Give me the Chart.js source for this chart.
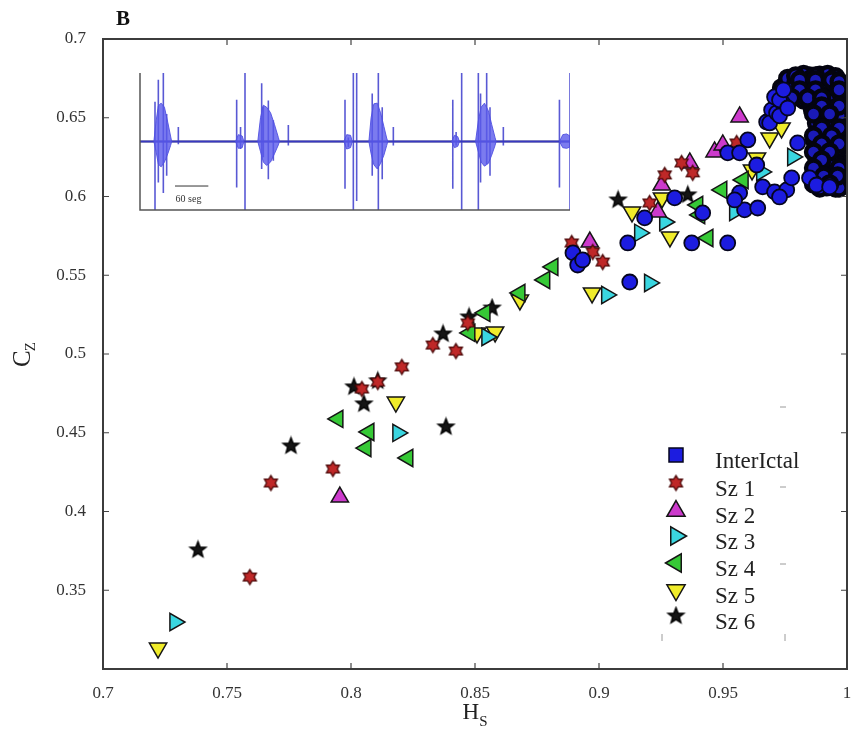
<!DOCTYPE html>
<html>
<head>
<meta charset="utf-8">
<script src="https://cdn.jsdelivr.net/npm/chart.js@4.4.0/dist/chart.umd.min.js"></script>
<style>
  body { margin: 0; background: #fff; }
  #wrap { position: relative; width: 864px; height: 729px; }
  #main { position: absolute; left: 0; top: 0; }
  #inset { position: absolute; left: 130px; top: 60px; }
</style>
</head>
<body>
<div id="wrap">
  <canvas id="main" width="864" height="729"></canvas>
  <canvas id="inset" width="450" height="160"></canvas>
</div>
<script>
'use strict';

// axis ticks
let xTicks = [0.7, 0.75, 0.8, 0.85, 0.9, 0.95, 1];
let yTicks = [0.3, 0.35, 0.4, 0.45, 0.5, 0.55, 0.6, 0.65, 0.7];

// [Hs, Cz]
let interIctal = [
  [0.8895, 0.5642], [0.8914, 0.5565], [0.8934, 0.5597], [0.9116, 0.5705], [0.9124, 0.5457],
  [0.9184, 0.5864], [0.9305, 0.5991], [0.9374, 0.5705], [0.9418, 0.5896], [0.9519, 0.5705],
  [0.9519, 0.6277], [0.9567, 0.6277], [0.9600, 0.6359], [0.9636, 0.6200], [0.9660, 0.6061],
  [0.9567, 0.6023], [0.9587, 0.5915], [0.9640, 0.5927], [0.9547, 0.5978], [0.9676, 0.6473],
  [0.9696, 0.6550], [0.9708, 0.6632], [0.9708, 0.6029], [0.9757, 0.6042], [0.9777, 0.6118],
  [0.9728, 0.5997], [0.9801, 0.6340], [0.9849, 0.6118], [0.9877, 0.6073], [0.9930, 0.6061],
  [0.9688, 0.6467], [0.9716, 0.6531], [0.9740, 0.6594], [0.9728, 0.6613], [0.9728, 0.6512],
  [0.9761, 0.6562], [0.9744, 0.6677]
];
// the dense, dark arc of overlapping InterIctal points (upper right)
let interIctalArc = [
  [0.9761, 0.6632], [0.9736, 0.6689], [0.9821, 0.6658],
  [0.9769, 0.6730], [0.9789, 0.6689], [0.9809, 0.6760], [0.9829, 0.6708], [0.9849, 0.6765],
  [0.9882, 0.6613], [0.9890, 0.6770], [0.9910, 0.6645], [0.9922, 0.6770], [0.9942, 0.6721],
  [0.9950, 0.6632], [0.9861, 0.6550], [0.9942, 0.6550], [0.9877, 0.6467], [0.9938, 0.6467],
  [0.9962, 0.6486], [0.9869, 0.6359], [0.9910, 0.6359], [0.9942, 0.6378], [0.9950, 0.6296],
  [0.9877, 0.6251], [0.9942, 0.6213], [0.9962, 0.6232], [0.9890, 0.6169], [0.9938, 0.6124],
  [0.9965, 0.6105], [0.9918, 0.6061],
  [0.9761, 0.6750], [0.9825, 0.6775], [0.9857, 0.6750], [0.9922, 0.6775], [0.9793, 0.6715],
  [0.9857, 0.6664], [0.9890, 0.6715], [0.9954, 0.6715], [0.9968, 0.6613], [0.9922, 0.6613],
  [0.9825, 0.6613], [0.9890, 0.6512], [0.9922, 0.6461], [0.9968, 0.6410], [0.9890, 0.6410],
  [0.9968, 0.6308], [0.9922, 0.6258], [0.9890, 0.6308], [0.9968, 0.6156], [0.9922, 0.6156],
  [0.9954, 0.6054], [0.9890, 0.6054], [0.9954, 0.6562], [0.9968, 0.6512], [0.9954, 0.6207],
  [0.9968, 0.6054],
  [0.9793, 0.6766], [0.9873, 0.6766], [0.9954, 0.6760], [0.9809, 0.6740], [0.9873, 0.6740],
  [0.9938, 0.6740], [0.9968, 0.6730], [0.9809, 0.6677], [0.9873, 0.6677], [0.9968, 0.6677],
  [0.9777, 0.6626], [0.9841, 0.6626], [0.9898, 0.6626], [0.9898, 0.6575], [0.9968, 0.6575],
  [0.9865, 0.6524], [0.9930, 0.6524], [0.9898, 0.6435], [0.9968, 0.6435], [0.9865, 0.6385],
  [0.9938, 0.6385], [0.9898, 0.6334], [0.9968, 0.6334], [0.9865, 0.6283], [0.9930, 0.6283],
  [0.9898, 0.6232], [0.9865, 0.6181], [0.9968, 0.6181], [0.9906, 0.6130], [0.9962, 0.6130],
  [0.9865, 0.6080], [0.9930, 0.6080]
];
let sz1 = [
  [0.7592, 0.3584], [0.7677, 0.4181], [0.7927, 0.4270], [0.8044, 0.4778], [0.8108, 0.4822],
  [0.8205, 0.4918], [0.8330, 0.5057], [0.8423, 0.5019], [0.8471, 0.5197], [0.8890, 0.5705],
  [0.8975, 0.5648], [0.9015, 0.5584], [0.9204, 0.5959], [0.9265, 0.6137], [0.9333, 0.6213],
  [0.9378, 0.6150], [0.9555, 0.6340]
];
let sz2 = [
  [0.7955, 0.4092], [0.8963, 0.5711], [0.9253, 0.6073], [0.9237, 0.5902], [0.9366, 0.6213],
  [0.9466, 0.6283], [0.9499, 0.6327], [0.9567, 0.6505]
];
let sz3 = [
  [0.7290, 0.3298], [0.8189, 0.4499], [0.8548, 0.5108], [0.9031, 0.5375], [0.9204, 0.5451],
  [0.9164, 0.5769], [0.9265, 0.5838], [0.9547, 0.5902], [0.9656, 0.6156], [0.9781, 0.6251]
];
let sz4 = [
  [0.7947, 0.4588], [0.8072, 0.4505], [0.8060, 0.4403], [0.8229, 0.4340], [0.8479, 0.5134],
  [0.8540, 0.5261], [0.8681, 0.5388], [0.8781, 0.5470], [0.8814, 0.5553], [0.9398, 0.5946],
  [0.9406, 0.5883], [0.9439, 0.5737], [0.9495, 0.6042], [0.9581, 0.6105]
];
let sz5 = [
  [0.7222, 0.3133], [0.8181, 0.4695], [0.8508, 0.5134], [0.8581, 0.5140], [0.8681, 0.5343],
  [0.8972, 0.5388], [0.9254, 0.5991], [0.9133, 0.5902], [0.9286, 0.5743], [0.9617, 0.6169],
  [0.9637, 0.6245], [0.9688, 0.6372], [0.9736, 0.6435]
];
let sz6 = [
  [0.7383, 0.3756], [0.7758, 0.4416], [0.8012, 0.4791], [0.8052, 0.4683], [0.8108, 0.4829],
  [0.8371, 0.5127], [0.8383, 0.4537], [0.8476, 0.5235], [0.8569, 0.5292], [0.9077, 0.5978],
  [0.9358, 0.6010]
];

// inset EEG trace (seconds, relative amplitude)
let spikeT = [27, 33, 42, 48, 69, 174, 181, 189, 219, 222, 231, 240, 267, 369, 375, 384, 390, 418, 429, 436, 456, 563, 569, 579, 609, 613, 624, 630, 654, 755, 774];
let spikeUp = [0.58, 0.9, 1, 0.4, 0.21, 0.61, 0.21, 1, 0.85, 0.51, 0.6, 0.31, 0.24, 0.61, 0.06, 1, 1, 0.7, 1, 0.5, 0.21, 0.61, 0.14, 1, 1, 0.7, 1, 0.5, 0.21, 0.61, 1];
let spikeDown = [-1, -0.6, -0.75, -0.5, -0.04, -0.67, -0.11, -1, -0.4, -0.23, -0.55, -0.28, -0.06, -0.69, -0.08, -1, -0.87, -0.5, -1, -0.55, -0.06, -0.69, -0.06, -1, -1, -0.6, -0.33, -0.5, -0.06, -0.67, -1];
let bursts = [
  [[25, 0], [29, 0.3], [33, 0.52], [38, 0.56], [44, 0.5], [50, 0.28], [55, 0.08], [57, 0], [55, -0.06], [50, -0.18], [44, -0.3], [38, -0.37], [33, -0.33], [29, -0.15], [25, 0]],
  [[212, 0], [217, 0.35], [222, 0.53], [228, 0.5], [235, 0.42], [242, 0.25], [249, 0.06], [251, 0], [249, -0.05], [242, -0.18], [235, -0.3], [228, -0.35], [222, -0.3], [217, -0.15], [212, 0]],
  [[412, 0], [416, 0.35], [421, 0.55], [427, 0.56], [433, 0.42], [439, 0.22], [444, 0.05], [446, 0], [444, -0.06], [439, -0.2], [433, -0.32], [427, -0.4], [421, -0.34], [416, -0.18], [412, 0]],
  [[604, 0], [609, 0.3], [614, 0.5], [620, 0.56], [627, 0.45], [633, 0.25], [639, 0.06], [641, 0], [639, -0.06], [633, -0.2], [627, -0.32], [620, -0.36], [614, -0.3], [609, -0.15], [604, 0]],
  [[172, 0], [177, 0.1], [184, 0.08], [187, 0], [184, -0.09], [177, -0.1], [172, 0]],
  [[367, 0], [372, 0.1], [379, 0.09], [382, 0], [379, -0.09], [372, -0.11], [367, 0]],
  [[561, 0], [566, 0.09], [572, 0.07], [575, 0], [572, -0.07], [566, -0.09], [561, 0]],
  [[755, 0], [761, 0.1], [768, 0.11], [774, 0.08], [774, -0.08], [768, -0.1], [761, -0.09], [755, 0]]
];

function starImage(n, rOut, rIn, fill, stroke) {
  let size = Math.ceil(rOut * 2 + 4);
  let c = document.createElement('canvas');
  c.width = size;
  c.height = size;
  let g = c.getContext('2d');
  g.beginPath();
  for (let i = 0; i < n * 2; i++) {
    let r = i % 2 === 0 ? rOut : rIn;
    let a = -Math.PI / 2 + i * Math.PI / n;
    let px = size / 2 + r * Math.cos(a);
    let py = size / 2 + r * Math.sin(a);
    if (i === 0) g.moveTo(px, py); else g.lineTo(px, py);
  }
  g.closePath();
  g.fillStyle = fill;
  g.fill();
  g.lineWidth = 1.3;
  g.strokeStyle = stroke;
  g.stroke();
  return c;
}

let hexStar = starImage(6, 7.5, 4.4, '#bf2828', '#4a0808');
let blackStar = starImage(5, 8.5, 3.6, '#151515', '#000');

let series = [
  { label: 'InterIctal', pts: interIctal, style: 'circle', rot: 0, r: 7.5, fill: '#1c1ce0', edge: '#06061e' },
  { label: 'Sz 1', pts: sz1, style: hexStar, rot: 0, r: 7, fill: '#bf2828', edge: '#4a0808' },
  { label: 'Sz 2', pts: sz2, style: 'triangle', rot: 0, r: 10, fill: '#cc3acc', edge: '#151515' },
  { label: 'Sz 3', pts: sz3, style: 'triangle', rot: 90, r: 10, fill: '#3ad6e0', edge: '#151515' },
  { label: 'Sz 4', pts: sz4, style: 'triangle', rot: 270, r: 10, fill: '#36c936', edge: '#151515' },
  { label: 'Sz 5', pts: sz5, style: 'triangle', rot: 180, r: 10, fill: '#f0ec2a', edge: '#151515' },
  { label: 'Sz 6', pts: sz6, style: blackStar, rot: 0, r: 8, fill: '#151515', edge: '#000' }
];

let datasets = series.map((s, i) => ({
  label: s.label,
  data: s.pts.map(p => ({ x: p[0], y: p[1] })),
  pointStyle: s.style,
  pointRotation: s.rot,
  pointRadius: s.r,
  backgroundColor: s.fill,
  borderColor: s.edge,
  borderWidth: i === 0 ? 1.8 : 1.5
}));
// the arc sits just under the other InterIctal circles
datasets.splice(1, 0, {
  label: 'InterIctal',
  data: interIctalArc.map(p => ({ x: p[0], y: p[1] })),
  pointStyle: 'circle',
  pointRadius: 7.5,
  backgroundColor: '#1a1ab8',
  borderColor: '#04040f',
  borderWidth: 4.4
});

function fmt(v) {
  return String(parseFloat(v.toFixed(2)));
}

function drawTri(ctx, x, y, r, rotDeg) {
  let rad = rotDeg * Math.PI / 180;
  ctx.beginPath();
  for (let i = 0; i < 3; i++) {
    let a = rad + i * 2 * Math.PI / 3;
    let px = x + Math.sin(a) * r;
    let py = y - Math.cos(a) * r;
    if (i === 0) ctx.moveTo(px, py); else ctx.lineTo(px, py);
  }
  ctx.closePath();
  ctx.fill();
  ctx.stroke();
}

let framePlugin = {
  id: 'frame',
  afterDraw(chart) {
    let ctx = chart.ctx;
    let a = chart.chartArea;
    let x = chart.scales.x;
    let y = chart.scales.y;
    ctx.save();

    // inward ticks
    ctx.strokeStyle = '#444';
    ctx.lineWidth = 1.2;
    xTicks.forEach(v => {
      let px = x.getPixelForValue(v);
      ctx.beginPath();
      ctx.moveTo(px, a.bottom); ctx.lineTo(px, a.bottom - 6);
      ctx.moveTo(px, a.top); ctx.lineTo(px, a.top + 6);
      ctx.stroke();
    });
    yTicks.forEach(v => {
      let py = y.getPixelForValue(v);
      ctx.beginPath();
      ctx.moveTo(a.left, py); ctx.lineTo(a.left + 6, py);
      ctx.moveTo(a.right, py); ctx.lineTo(a.right - 6, py);
      ctx.stroke();
    });

    // box
    ctx.strokeStyle = '#3c3c3c';
    ctx.lineWidth = 2;
    ctx.strokeRect(a.left, a.top, a.right - a.left, a.bottom - a.top);

    // panel letter
    ctx.fillStyle = '#111';
    ctx.font = 'bold 21px "Liberation Serif", serif';
    ctx.textAlign = 'center';
    ctx.textBaseline = 'middle';
    ctx.fillText('B', 123, 20);

    // x title H_S
    ctx.textAlign = 'left';
    ctx.textBaseline = 'alphabetic';
    ctx.font = '23px "Liberation Serif", serif';
    let wH = ctx.measureText('H').width;
    ctx.font = '15px "Liberation Serif", serif';
    let wS = ctx.measureText('S').width;
    let sx = (a.left + a.right) / 2 - (wH + wS) / 2;
    ctx.fillStyle = '#222';
    ctx.font = '23px "Liberation Serif", serif';
    ctx.fillText('H', sx, 719);
    ctx.font = '15px "Liberation Serif", serif';
    ctx.fillText('S', sx + wH, 726);

    // y title C_Z
    ctx.save();
    ctx.translate(30, (a.top + a.bottom) / 2);
    ctx.rotate(-Math.PI / 2);
    ctx.font = '25px "Liberation Serif", serif';
    let wC = ctx.measureText('C').width;
    ctx.font = '15px "Liberation Serif", serif';
    let wZ = ctx.measureText('Z').width;
    let cx = -(wC + wZ) / 2;
    ctx.font = '25px "Liberation Serif", serif';
    ctx.fillText('C', cx, 0);
    ctx.font = '15px "Liberation Serif", serif';
    ctx.fillText('Z', cx + wC - 1, 5);
    ctx.restore();

    // legend
    let rowsY = [462, 490, 517, 543, 570, 597, 623];
    series.forEach((s, i) => {
      let ly = rowsY[i];
      let my = ly - 7;
      let mx = 676;
      ctx.fillStyle = s.fill;
      ctx.strokeStyle = s.edge;
      ctx.lineWidth = 1.5;
      if (i === 0) {
        ctx.fillRect(mx - 7, my - 7, 14, 14);
        ctx.strokeRect(mx - 7, my - 7, 14, 14);
      } else if (typeof s.style === 'string') {
        drawTri(ctx, mx, my + (s.rot === 0 ? 1 : 0), 10.5, s.rot);
      } else {
        ctx.drawImage(s.style, mx - s.style.width / 2, my - s.style.height / 2);
      }
      ctx.fillStyle = '#222';
      ctx.font = '23px "Liberation Serif", serif';
      ctx.textAlign = 'left';
      ctx.textBaseline = 'middle';
      ctx.fillText(s.label, 715, ly);
    });

    // faint remnants of the legend frame
    ctx.strokeStyle = '#9a9a9a';
    ctx.lineWidth = 1;
    ctx.beginPath();
    [407, 487, 564].forEach(py => { ctx.moveTo(780, py); ctx.lineTo(786, py); });
    ctx.moveTo(662, 634); ctx.lineTo(662, 641);
    ctx.moveTo(785, 634); ctx.lineTo(785, 641);
    ctx.stroke();

    ctx.restore();
  }
};

new Chart(document.getElementById('main').getContext('2d'), { //eslint-disable-line
  type: 'scatter',
  data: { datasets: datasets },
  options: {
    responsive: false,
    animation: false,
    events: [],
    layout: { padding: { top: 39, right: 17, left: 0, bottom: 0 } },
    plugins: {
      legend: { display: false },
      tooltip: { enabled: false }
    },
    scales: {
      x: {
        type: 'linear',
        min: 0.7,
        max: 1,
        afterFit: s => { s.height = 60; },
        afterBuildTicks: s => { s.ticks = xTicks.map(v => ({ value: v })); },
        grid: { display: false },
        border: { display: false },
        ticks: {
          padding: 6,
          color: '#333',
          font: { family: '"Liberation Serif", serif', size: 17 },
          callback: v => fmt(v)
        }
      },
      y: {
        type: 'linear',
        min: 0.3,
        max: 0.7,
        afterFit: s => { s.width = 103; },
        afterBuildTicks: s => { s.ticks = yTicks.map(v => ({ value: v })); },
        grid: { display: false },
        border: { display: false },
        ticks: {
          padding: 9,
          color: '#333',
          font: { family: '"Liberation Serif", serif', size: 17 },
          callback: v => (v < 0.31 ? '' : fmt(v))
        }
      }
    }
  },
  plugins: [framePlugin]
});

// inset: EEG trace
let trace = [{ x: 0, y: 0 }];
for (let i = 0; i < spikeT.length; i++) {
  trace.push({ x: spikeT[i], y: 0 });
  trace.push({ x: spikeT[i], y: spikeUp[i] });
  trace.push({ x: spikeT[i], y: spikeDown[i] });
  trace.push({ x: spikeT[i], y: 0 });
}
trace.push({ x: 774, y: 0 });

let insetSets = bursts.map(b => ({
  data: b.map(p => ({ x: p[0], y: p[1] })),
  borderColor: 'rgba(80,80,225,0.9)',
  backgroundColor: 'rgba(90,90,235,0.8)',
  borderWidth: 1,
  pointRadius: 0,
  fill: 'shape'
}));
insetSets.push({
  data: trace,
  borderColor: 'rgba(60,60,205,0.85)',
  borderWidth: 1.6,
  pointRadius: 0,
  fill: false
});
insetSets.push({
  data: [{ x: 0, y: 0 }, { x: 774, y: 0 }],
  borderColor: '#26267a',
  borderWidth: 1.8,
  pointRadius: 0,
  fill: false
});

let insetPlugin = {
  id: 'insetFrame',
  afterDraw(chart) {
    let ctx = chart.ctx;
    let a = chart.chartArea;
    let x = chart.scales.x;
    let y = chart.scales.y;
    ctx.save();
    ctx.strokeStyle = '#555';
    ctx.lineWidth = 1.5;
    ctx.beginPath();
    ctx.moveTo(a.left, a.top);
    ctx.lineTo(a.left, a.bottom);
    ctx.lineTo(a.right, a.bottom);
    ctx.stroke();
    // 60 s scale bar
    ctx.strokeStyle = '#333';
    ctx.lineWidth = 1;
    ctx.beginPath();
    ctx.moveTo(x.getPixelForValue(63), y.getPixelForValue(-0.65));
    ctx.lineTo(x.getPixelForValue(123), y.getPixelForValue(-0.65));
    ctx.stroke();
    ctx.fillStyle = '#333';
    ctx.font = '10px "Liberation Serif", serif';
    ctx.textBaseline = 'middle';
    ctx.fillText('60 seg', x.getPixelForValue(64), y.getPixelForValue(-0.85));
    ctx.restore();
  }
};

new Chart(document.getElementById('inset').getContext('2d'), { //eslint-disable-line
  type: 'line',
  data: { datasets: insetSets },
  options: {
    responsive: false,
    animation: false,
    events: [],
    layout: { padding: { left: 10, right: 10, top: 13, bottom: 10 } },
    plugins: { legend: { display: false }, tooltip: { enabled: false } },
    scales: {
      x: { type: 'linear', min: 0, max: 774, display: false },
      y: { type: 'linear', min: -1, max: 1, display: false }
    }
  },
  plugins: [insetPlugin]
});
</script>
</body>
</html>
